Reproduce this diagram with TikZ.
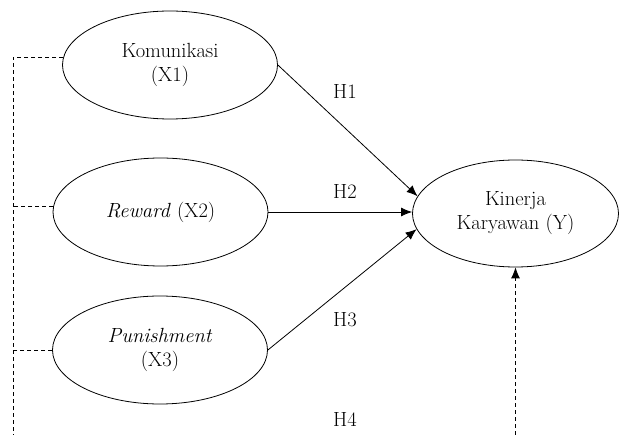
\documentclass[tikz,border=0pt]{standalone}
\usetikzlibrary{shapes.geometric}
\usetikzlibrary{arrows.meta}

\begin{document}
\begin{tikzpicture}[x=1pt,y=-1pt,
  var/.style={draw,ellipse,line width=0.8pt,inner sep=0pt,minimum width=215pt,minimum height=108pt,align=center,font=\fontsize{20.5}{24}\selectfont},
  effect/.style={line width=0.8pt,-{Latex[length=11pt,width=9pt]}},
  link/.style={line width=0.8pt,dash pattern=on 4pt off 3pt},
  hyp/.style={font=\fontsize{20.5}{24}\selectfont}]
\useasboundingbox (0,0) rectangle (619,435);
\node[var] (X1) at (170,65) {Komunikasi\\(X1)};
\node[var] (X2) at (160.5,212) {\textit{Reward} (X2)};
\node[var] (X3) at (160,350) {\textit{Punishment}\\(X3)};
\node[var,minimum width=206pt,minimum height=107pt] (Y) at (515.5,213.5) {Kinerja\\Karyawan (Y)};
\coordinate (bus) at (13,435);
\coordinate (yb) at (515,435);
\draw[effect] (X1.east) -- (Y.170);
\draw[effect] (X2.east) -- (X2.east -| Y.west);
\draw[effect] (X3.east) -- (Y.189);
\draw[link,-{Latex[length=11pt,width=9pt]}] (Y.south |- yb) -- (Y.south);
\draw[link] (X1.176) -| (bus);
\draw[link] (X2.177) -- (X2.177 -| bus);
\draw[link] (X3.west) -- (X3.west -| bus);
\node[hyp] (h1) at (345,92) {H1};
\node[hyp] (h2) at (345,192) {H2};
\node[hyp] (h3) at (345,320) {H3};
\node[hyp] (h4) at (345,420) {H4};
\end{tikzpicture}
\end{document}
